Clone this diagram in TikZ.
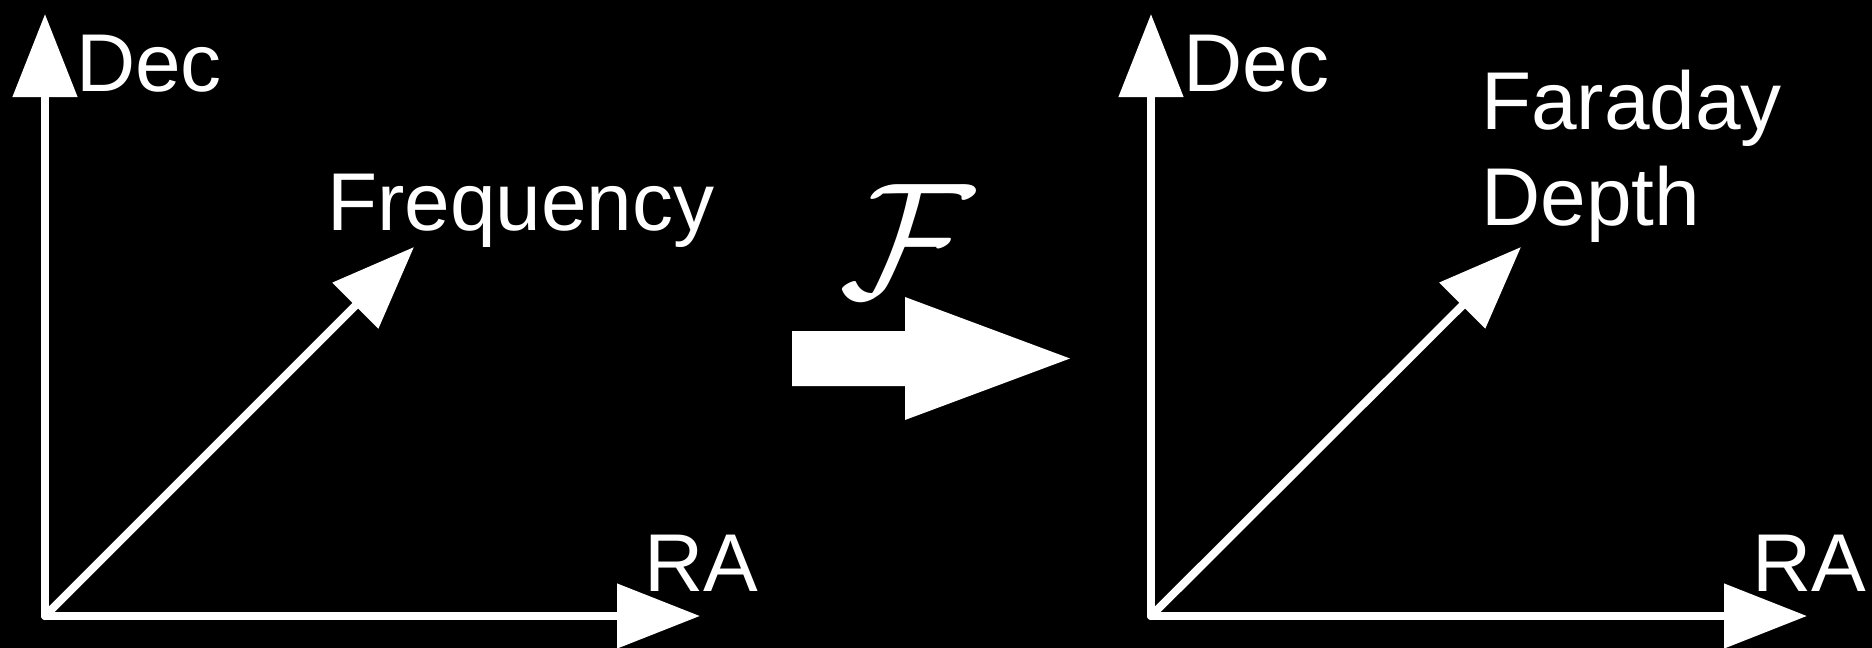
\documentclass[tikz,border=0pt]{standalone}
\usepackage{fontspec}
\setmainfont{Liberation Sans}
\usetikzlibrary{arrows.meta}
\tikzset{
  axisarrow/.style={draw=white, line width=8pt, line cap=round, -{Triangle[length=83pt,width=63pt]}},
  lbl/.style={text=white, inner sep=0pt, anchor=base west, font=\fontsize{82}{96}\selectfont},
  bigarrow/.style={fill=white, draw=none}
}
\begin{document}
\begin{tikzpicture}[x=1pt,y=-1pt]
\fill[black] (0,0) rectangle (1872,648);
\useasboundingbox (0,0) rectangle (1872,648);
% left panel
\coordinate (O1) at (45,616);
\coordinate (Y1) at (45,14);
\coordinate (X1) at (700,616);
\coordinate (D1) at (414,247);
\draw[axisarrow] (O1) -- (Y1);
\draw[axisarrow] (O1) -- (X1);
\draw[axisarrow] (O1) -- (D1);
\node[lbl] (dec1) at (76,91) {Dec};
\node[lbl] (ra1) at (644,591) {RA};
\node[lbl] (freq) at (327,230) {Frequency};
% transform arrow
\fill[bigarrow] (792,331) -- (905,331) -- (905,297) -- (1070,358.5) -- (905,420) -- (905,386) -- (792,386) -- cycle;
\node[text=white, inner sep=0pt, scale=16.5] (F) at (907,241) {$\mathcal{F}$};
% right panel
\coordinate (O2) at (1151,616);
\coordinate (Y2) at (1151,14);
\coordinate (X2) at (1807,616);
\coordinate (D2) at (1521,247);
\draw[axisarrow] (O2) -- (Y2);
\draw[axisarrow] (O2) -- (X2);
\draw[axisarrow] (O2) -- (D2);
\node[lbl] (dec2) at (1183,91) {Dec};
\node[lbl] (ra2) at (1752,591) {RA};
\node[lbl] (far) at (1481,129) {Faraday};
\node[lbl] (dep) at (1481,225) {Depth};
\end{tikzpicture}
\end{document}
